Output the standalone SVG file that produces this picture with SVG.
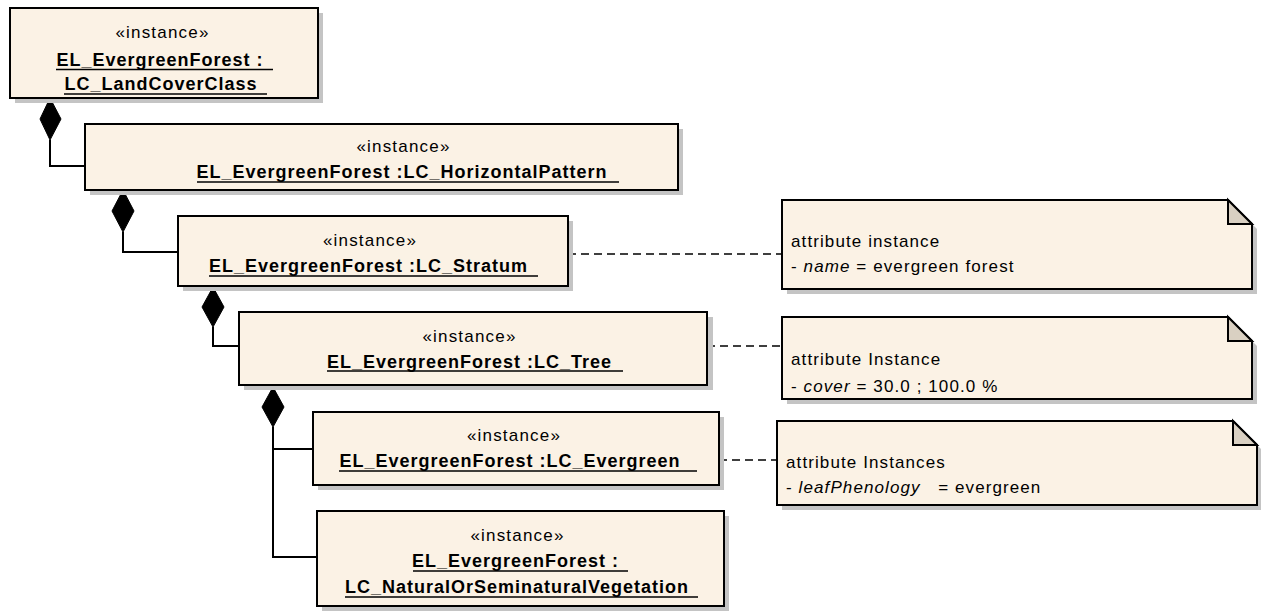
<svg xmlns="http://www.w3.org/2000/svg" width="1261" height="612" viewBox="0 0 1261 612">
<style>
.box{fill:#FBF2E5;stroke:#000;stroke-width:2}
.shadow{fill:#C4C4C4}
.fold{fill:#D9D0C2;stroke:#000;stroke-width:2;stroke-linejoin:miter}
.st{font-family:"Liberation Sans",Arial,sans-serif;font-size:17px;letter-spacing:1.2px;fill:#000;text-anchor:middle}
.nm{font-family:"Liberation Sans",Arial,sans-serif;font-size:18px;font-weight:bold;letter-spacing:1px;fill:#000;text-anchor:middle}
.nt{font-family:"Liberation Sans",Arial,sans-serif;font-size:17px;letter-spacing:1.1px;fill:#000}
.ul{stroke:#000;stroke-width:1.6}
.ln{fill:none;stroke:#000;stroke-width:2}
.dash{fill:none;stroke:#000;stroke-width:1.3;stroke-dasharray:8 5}
.dia{fill:#000;stroke:#000;stroke-width:1}
</style>
<rect width="1261" height="612" fill="#fff"/>
<g id="connectors">
<path class="ln" d="M50,140 V166 H85"/>
<polygon class="dia" points="50,98 40,119 50,140 61,119"/>
<path class="ln" d="M123,232 V252 H178"/>
<polygon class="dia" points="123,190 112,211 123,232 134,211"/>
<path class="ln" d="M213,327 V346 H239"/>
<polygon class="dia" points="213,287 202,307 213,327 224,307"/>
<path class="ln" d="M273,427 V557 H317 M273,449 H313"/>
<polygon class="dia" points="273,387 262,407 273,427 284,407"/>
<path class="dash" d="M568,254 H782"/>
<path class="dash" d="M707,346 H782"/>
<path class="dash" d="M719,460 H777"/>
</g>
<g id="n1">
<rect class="shadow" x="15" y="13" width="308" height="90"/>
<rect class="box" x="10" y="8" width="308" height="90"/>
<text class="st" x="162.5" y="38">«instance»</text>
<text class="nm" x="160" y="66">EL_EvergreenForest :</text>
<line class="ul" x1="56" y1="69.5" x2="273" y2="69.5"/>
<text class="nm" x="161" y="90">LC_LandCoverClass</text>
<line class="ul" x1="64" y1="94" x2="267" y2="94"/>
</g>
<g id="n2">
<rect class="shadow" x="90" y="129" width="593" height="66"/>
<rect class="box" x="85" y="124" width="593" height="66"/>
<text class="st" x="403.5" y="152">«instance»</text>
<text class="nm" x="402" y="178">EL_EvergreenForest :LC_HorizontalPattern</text>
<line class="ul" x1="197" y1="182" x2="619" y2="182"/>
</g>
<g id="n3">
<rect class="shadow" x="183" y="221" width="390" height="70"/>
<rect class="box" x="178" y="216" width="390" height="70"/>
<text class="st" x="370" y="246">«instance»</text>
<text class="nm" x="368.5" y="272">EL_EvergreenForest :LC_Stratum</text>
<line class="ul" x1="209" y1="276" x2="538" y2="276"/>
</g>
<g id="n4">
<rect class="shadow" x="244" y="317" width="469" height="73"/>
<rect class="box" x="239" y="312" width="468" height="73"/>
<text class="st" x="469.5" y="342">«instance»</text>
<text class="nm" x="469.5" y="368">EL_EvergreenForest :LC_Tree</text>
<line class="ul" x1="327" y1="371" x2="623" y2="371"/>
</g>
<g id="n5">
<rect class="shadow" x="318" y="417" width="406" height="73"/>
<rect class="box" x="313" y="412" width="406" height="73"/>
<text class="st" x="514" y="441">«instance»</text>
<text class="nm" x="510" y="467">EL_EvergreenForest :LC_Evergreen</text>
<line class="ul" x1="339" y1="471" x2="697" y2="471"/>
</g>
<g id="n6">
<rect class="shadow" x="322" y="516" width="407" height="95"/>
<rect class="box" x="317" y="511" width="407" height="95"/>
<text class="st" x="517.5" y="541">«instance»</text>
<text class="nm" x="515.5" y="567">EL_EvergreenForest :</text>
<line class="ul" x1="413" y1="571" x2="628" y2="571"/>
<text class="nm" x="517" y="593">LC_NaturalOrSeminaturalVegetation</text>
<line class="ul" x1="345" y1="597" x2="698" y2="597"/>
</g>
<g id="note1">
<polygon class="shadow" points="787,205 1233,205 1257,229 1257,294 787,294"/>
<polygon class="box" points="782,200 1228,200 1252,224 1252,289 782,289"/>
<polygon class="fold" points="1228,200 1228,224 1252,224"/>
<text class="nt" x="791" y="247">attribute instance</text>
<text class="nt" x="791" y="272">- <tspan font-style="italic">name</tspan> = evergreen forest</text>
</g>
<g id="note2">
<polygon class="shadow" points="787,322 1233,322 1257,346 1257,404 787,404"/>
<polygon class="box" points="782,317 1228,317 1252,341 1252,399 782,399"/>
<polygon class="fold" points="1228,317 1228,341 1252,341"/>
<text class="nt" x="791" y="365">attribute Instance</text>
<text class="nt" x="791" y="392">- <tspan font-style="italic">cover</tspan> = 30.0 ; 100.0 %</text>
</g>
<g id="note3">
<polygon class="shadow" points="782,426 1238,426 1262,450 1262,510 782,510"/>
<polygon class="box" points="777,421 1233,421 1257,445 1257,505 777,505"/>
<polygon class="fold" points="1233,421 1233,445 1257,445"/>
<text class="nt" x="786" y="468">attribute Instances</text>
<text class="nt" x="786" y="493" xml:space="preserve">- <tspan font-style="italic">leafPhenology</tspan>   = evergreen</text>
</g>
</svg>
